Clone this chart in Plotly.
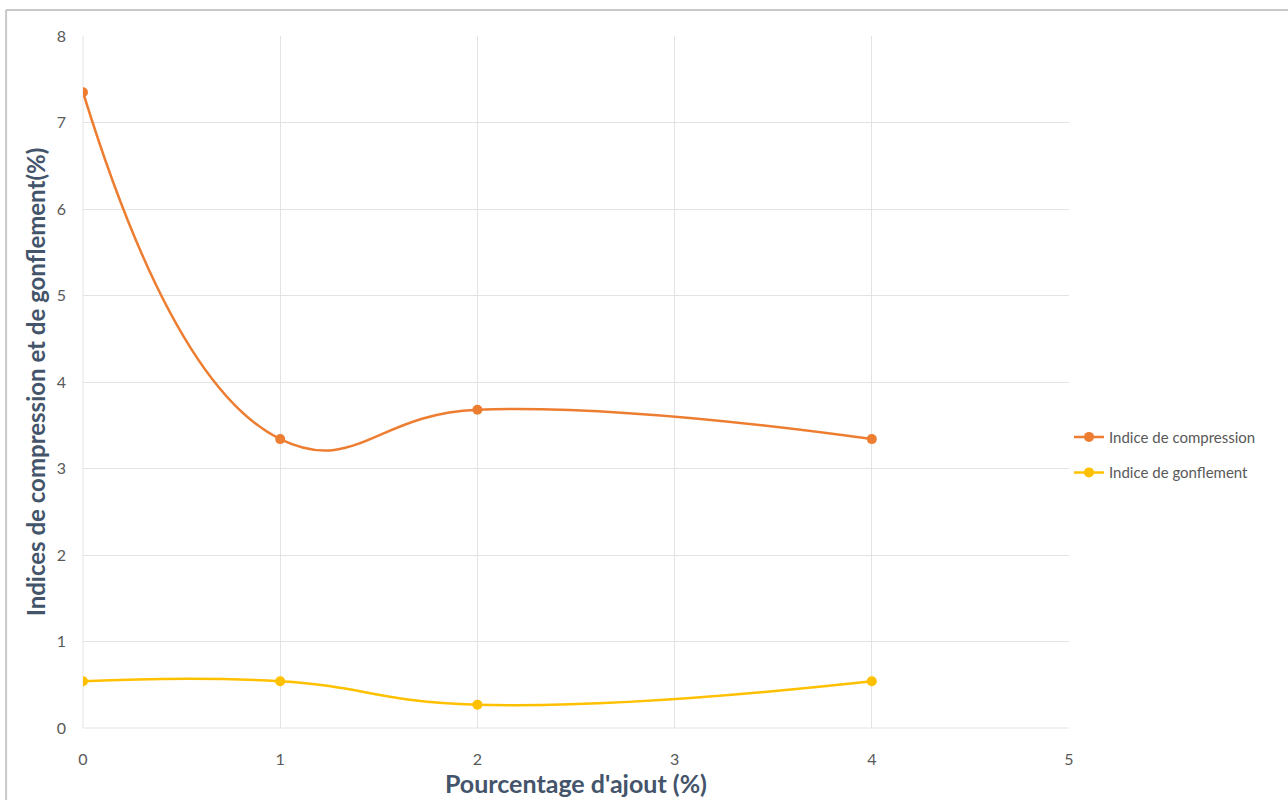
import plotly.graph_objects as go

# Pourcentage d'ajout (%)
ajout = [0, 1, 2, 4]
# Indices (%)
compression = [7.35, 3.34, 3.68, 3.34]
gonflement = [0.54, 0.54, 0.27, 0.54]

x_ticks = [0, 1, 2, 3, 4, 5]
y_ticks = [0, 1, 2, 3, 4, 5, 6, 7, 8]

ORANGE = "#ED7D31"
YELLOW = "#FFC000"
TICK_COLOR = "#595959"
TITLE_COLOR = "#44546A"
GRID = "#E3E3E3"
FONT = "Lato, 'Open Sans', sans-serif"

fig = go.Figure()
fig.add_trace(go.Scatter(
    x=ajout, y=compression, name="Indice de compression",
    legendgroup="c",
    mode="lines+markers",
    line=dict(color=ORANGE, width=2.5, shape="spline", smoothing=1.3),
    marker=dict(color=ORANGE, size=10),
))
fig.add_trace(go.Scatter(
    x=ajout, y=gonflement, name="Indice de gonflement",
    legendgroup="g",
    mode="lines+markers",
    line=dict(color=YELLOW, width=2.5, shape="spline", smoothing=1.3),
    marker=dict(color=YELLOW, size=10),
))

# outer chart frame (top and left edges)
fig.add_shape(type="line", xref="paper", yref="paper",
              x0=-0.078, x1=1.3, y0=1.0376, y1=1.0376,
              line=dict(color="#C8C8C8", width=2))
fig.add_shape(type="line", xref="paper", yref="paper",
              x0=-0.078, x1=-0.078, y0=1.0376, y1=-0.2,
              line=dict(color="#C8C8C8", width=2))

fig.update_layout(
    width=1288, height=800,
    margin=dict(l=83, r=219, t=36, b=72),
    paper_bgcolor="white", plot_bgcolor="white",
    font=dict(family=FONT, color=TICK_COLOR, size=16),
    showlegend=True,
    legend=dict(
        x=1.0, xanchor="left", y=0.395, yanchor="middle",
        font=dict(size=15, color=TICK_COLOR),
        bgcolor="rgba(0,0,0,0)", tracegroupgap=13,
        itemwidth=30,
    ),
    xaxis=dict(
        range=[0, 5], tickvals=x_ticks, showgrid=True, gridcolor=GRID,
        gridwidth=1, zeroline=False, showline=False, ticks="",
        ticklabelstandoff=20, automargin=False,
        title=dict(text="<b>Pourcentage d'ajout (%)</b>",
                   font=dict(size=25, color=TITLE_COLOR, family=FONT),
                   standoff=4),
    ),
    yaxis=dict(
        range=[0, 8], tickvals=y_ticks, showgrid=True, gridcolor=GRID,
        gridwidth=1, zeroline=False, showline=False, ticks="",
        ticklabelstandoff=16, automargin=False,
        title=dict(text="<b>Indices de compression et de gonflement(%)</b>",
                   font=dict(size=24, color=TITLE_COLOR, family=FONT),
                   standoff=4),
    ),
)
# left and bottom plot edges drawn as grid-like lines
fig.add_shape(type="line", xref="paper", yref="paper", x0=0, x1=0, y0=0, y1=1,
              line=dict(color=GRID, width=1), layer="below")
fig.add_shape(type="line", xref="paper", yref="paper", x0=0, x1=1, y0=0, y1=0,
              line=dict(color=GRID, width=1), layer="below")

fig.write_html("out.html")
